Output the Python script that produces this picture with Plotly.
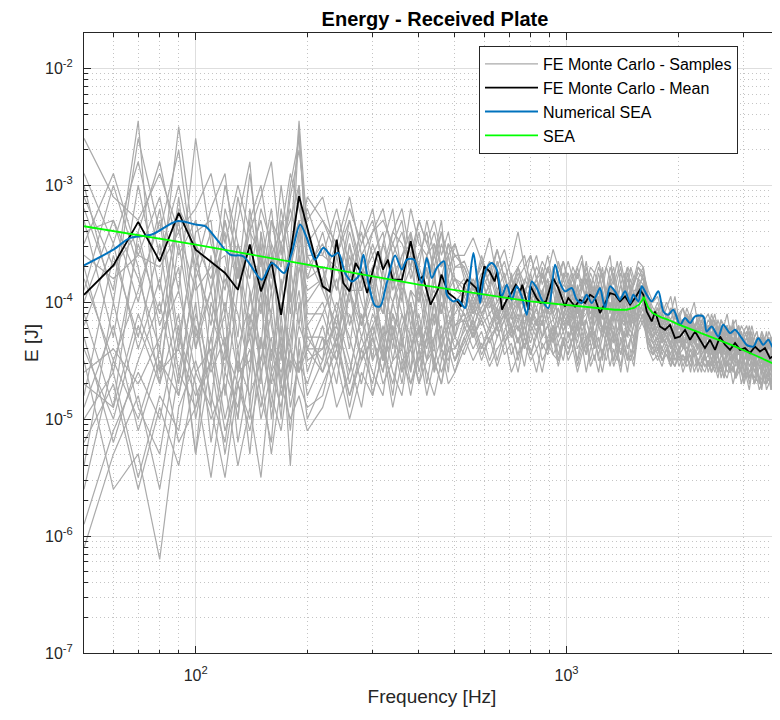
import math
import plotly.graph_objects as go

# ---------------- data (values are log10 of energy in J) ----------------
f_samples = (list(range(50, 201, 10)) + list(range(220, 501, 20))
             + list(range(530, 1521, 30)) + list(range(1560, 3811, 50)))

sample_01 = ([-3.2,-3.9,-2.45,-4.6,-3.5,-4.4,-3.6,-4.8,-3.9,-3.3,-4.7,-3.6,-4.4,-3.9,-2.5,-3.7]
    + [-3.7,-4.4,-3.5,-4.2,-3.8,-4.5,-3.6,-4.0,-3.4,-4.3,-3.9,-4.6,-3.8,-4.1,-4.3]
    + [-3.85,-4.1,-3.8,-4.05,-3.9,-4.15,-3.75,-4.0,-3.9,-4.2,-3.85,-4.05,-3.8,-4.1,-3.95,-4.15,
       -3.9,-4.1,-3.85,-4.15,-3.95,-4.05,-3.85,-4.2,-3.9,-4.05,-3.8,-4.1,-3.95,-4.15,-3.9,-4.05,-3.85,-4.1]
    + [-3.8,-3.95,-4.05,-4.25,-4.1,-4.3,-4.15,-4.2,-4.35,-4.1,-4.25,-4.3,-4.15,-4.35,-4.2,-4.3,
       -4.4,-4.2,-4.35,-4.25,-4.4,-4.3,-4.2,-4.45,-4.3,-4.35,-4.25,-4.45,-4.3,-4.4,
       -4.35,-4.5,-4.3,-4.45,-4.35,-4.5,-4.4,-4.3,-4.5,-4.35,-4.45,-4.4,-4.55,-4.35,-4.45,-4.5])
sample_02 = ([-4.8,-3.6,-4.3,-3.5,-4.6,-3.8,-4.9,-3.7,-4.4,-4.0,-3.6,-4.5,-3.8,-4.6,-3.5,-4.3]
    + [-4.5,-3.6,-4.2,-3.8,-4.5,-3.7,-4.3,-3.9,-4.6,-3.8,-4.2,-3.7,-4.4,-3.9,-3.8]
    + [-4.0,-4.25,-3.95,-4.2,-4.05,-3.9,-4.25,-4.1,-4.3,-4.0,-4.2,-3.95,-4.15,-4.3,-4.05,-4.2,
       -4.1,-4.3,-4.05,-4.25,-4.15,-4.0,-4.3,-4.1,-4.25,-4.05,-4.3,-4.15,-4.0,-4.2,-4.1,-4.3,-4.05,-4.2]
    + [-4.1,-3.85,-4.2,-4.3,-4.2,-4.35,-4.25,-4.4,-4.2,-4.35,-4.3,-4.45,-4.25,-4.35,-4.4,-4.3,
       -4.45,-4.35,-4.3,-4.5,-4.35,-4.45,-4.4,-4.3,-4.5,-4.4,-4.45,-4.35,-4.55,-4.4,
       -4.5,-4.45,-4.35,-4.55,-4.45,-4.5,-4.6,-4.4,-4.5,-4.55,-4.45,-4.6,-4.5,-4.45,-4.6,-4.55])
sample_03 = ([-5.9,-5.1,-4.6,-5.0,-4.2,-5.3,-4.5,-4.1,-5.2,-4.6,-3.9,-5.0,-4.4,-4.8,-4.0,-4.6]
    + [-4.2,-4.7,-3.9,-4.5,-4.1,-4.3,-4.8,-4.2,-4.0,-4.6,-4.3,-4.0,-4.5,-4.3,-4.5]
    + [-4.35,-4.15,-4.4,-4.2,-4.5,-4.25,-4.1,-4.35,-4.2,-4.45,-4.3,-4.15,-4.4,-4.2,-4.35,-4.5,
       -4.25,-4.4,-4.15,-4.35,-4.45,-4.2,-4.35,-4.3,-4.5,-4.25,-4.4,-4.2,-4.35,-4.45,-4.25,-4.4,-4.3,-4.2]
    + [-4.05,-4.15,-4.3,-4.4,-4.3,-4.45,-4.35,-4.5,-4.35,-4.45,-4.4,-4.3,-4.5,-4.4,-4.55,-4.4,
       -4.5,-4.45,-4.55,-4.4,-4.6,-4.45,-4.5,-4.55,-4.45,-4.6,-4.5,-4.55,-4.45,-4.6,
       -4.55,-4.65,-4.5,-4.6,-4.55,-4.7,-4.6,-4.5,-4.65,-4.55,-4.7,-4.6,-4.55,-4.7,-4.65,-4.6])
sample_04 = ([-3.3,-4.3,-3.0,-3.9,-2.5,-3.6,-4.2,-3.3,-3.8,-2.9,-3.7,-3.2,-3.9,-3.5,-2.45,-3.4]
    + [-3.9,-3.3,-3.8,-3.5,-3.2,-3.7,-3.5,-3.3,-3.8,-3.6,-3.4,-3.8,-3.5,-3.7,-3.6]
    + [-3.7,-3.9,-3.65,-3.85,-3.55,-3.8,-3.95,-3.7,-3.85,-3.6,-3.8,-3.75,-3.95,-3.7,-3.85,-3.65,
       -3.8,-3.95,-3.75,-3.9,-3.7,-3.85,-3.95,-3.75,-3.9,-3.7,-3.8,-3.95,-3.8,-3.7,-3.9,-3.75,-3.95,-3.85]
    + [-3.7,-3.8,-3.95,-4.1,-4.0,-4.15,-4.05,-3.95,-4.15,-4.1,-4.2,-4.05,-4.15,-4.25,-4.1,-4.2,
       -4.15,-4.25,-4.1,-4.2,-4.3,-4.15,-4.25,-4.2,-4.3,-4.15,-4.3,-4.2,-4.35,-4.25,
       -4.3,-4.2,-4.35,-4.3,-4.25,-4.4,-4.3,-4.35,-4.25,-4.4,-4.3,-4.35,-4.45,-4.3,-4.4,-4.35])
sample_05 = ([-4.5,-5.6,-5.3,-6.2,-4.9,-4.5,-5.0,-4.7,-5.4,-4.9,-5.5,-4.6,-4.9,-4.4,-4.7,-4.9]
    + [-4.8,-4.3,-4.9,-4.4,-4.7,-4.2,-4.6,-4.8,-4.3,-4.7,-4.5,-4.4,-4.6,-4.4,-4.3]
    + [-4.45,-4.25,-4.5,-4.3,-4.2,-4.45,-4.35,-4.6,-4.3,-4.45,-4.25,-4.5,-4.4,-4.3,-4.55,-4.35,
       -4.45,-4.3,-4.5,-4.35,-4.6,-4.4,-4.3,-4.5,-4.45,-4.35,-4.55,-4.4,-4.5,-4.3,-4.45,-4.6,-4.4,-4.5]
    + [-4.2,-4.1,-4.35,-4.45,-4.35,-4.5,-4.4,-4.55,-4.45,-4.4,-4.55,-4.45,-4.6,-4.4,-4.5,-4.55,
       -4.45,-4.6,-4.5,-4.55,-4.45,-4.65,-4.55,-4.5,-4.6,-4.55,-4.65,-4.5,-4.6,-4.7,
       -4.55,-4.65,-4.6,-4.7,-4.6,-4.65,-4.75,-4.6,-4.7,-4.65,-4.6,-4.75,-4.65,-4.7,-4.75,-4.65])
sample_06 = ([-3.5,-2.9,-3.6,-3.1,-3.9,-2.6,-3.5,-3.9,-3.1,-3.6,-3.3,-3.8,-3.0,-3.6,-3.3,-3.8]
    + [-3.4,-3.9,-3.3,-3.7,-4.0,-3.5,-3.8,-3.6,-3.5,-3.9,-3.6,-3.5,-3.9,-3.6,-3.9]
    + [-3.8,-4.0,-3.85,-3.7,-3.95,-3.85,-4.05,-3.8,-3.95,-3.75,-4.0,-3.9,-3.8,-4.05,-3.85,-3.95,
       -3.85,-4.05,-3.9,-3.8,-4.0,-3.9,-4.1,-3.85,-4.0,-3.95,-3.8,-4.05,-3.9,-4.0,-3.85,-3.95,-4.05,-3.9]
    + [-3.9,-3.75,-4.0,-4.15,-4.05,-4.2,-4.1,-4.25,-4.1,-4.2,-4.15,-4.25,-4.1,-4.2,-4.3,-4.15,
       -4.25,-4.2,-4.3,-4.15,-4.3,-4.25,-4.35,-4.2,-4.3,-4.25,-4.35,-4.3,-4.25,-4.4,
       -4.3,-4.35,-4.25,-4.4,-4.35,-4.3,-4.45,-4.35,-4.4,-4.3,-4.45,-4.35,-4.4,-4.45,-4.35,-4.4])
sample_07 = ([-5.0,-4.6,-5.5,-4.8,-5.1,-4.2,-4.8,-5.2,-4.4,-5.3,-4.3,-4.8,-5.1,-4.5,-4.6,-4.4]
    + [-4.6,-4.1,-4.5,-4.9,-4.3,-4.6,-4.1,-4.5,-4.4,-4.2,-4.7,-4.3,-4.2,-4.6,-4.0]
    + [-4.1,-4.3,-4.15,-4.35,-4.2,-4.05,-4.3,-4.2,-4.4,-4.15,-4.25,-4.1,-4.35,-4.2,-4.3,-4.15,
       -4.3,-4.2,-4.35,-4.15,-4.3,-4.25,-4.4,-4.2,-4.3,-4.15,-4.35,-4.25,-4.4,-4.2,-4.3,-4.25,-4.15,-4.35]
    + [-4.15,-4.0,-4.3,-4.35,-4.45,-4.3,-4.4,-4.35,-4.5,-4.4,-4.3,-4.5,-4.4,-4.45,-4.35,-4.5,
       -4.45,-4.55,-4.4,-4.5,-4.45,-4.55,-4.4,-4.5,-4.6,-4.45,-4.55,-4.5,-4.45,-4.6,
       -4.5,-4.6,-4.55,-4.5,-4.65,-4.55,-4.6,-4.5,-4.65,-4.6,-4.55,-4.7,-4.6,-4.55,-4.65,-4.6])
sample_08 = ([-4.0,-3.3,-3.8,-4.4,-3.1,-4.3,-3.9,-3.4,-4.6,-3.6,-4.1,-3.5,-4.5,-3.8,-3.0,-4.1]
    + [-4.1,-3.8,-4.4,-3.6,-3.9,-4.1,-3.7,-4.4,-3.9,-4.0,-3.7,-4.2,-3.8,-4.3,-4.0]
    + [-3.9,-4.1,-4.0,-3.85,-4.1,-3.95,-4.15,-3.9,-4.05,-4.2,-3.95,-4.05,-3.85,-4.1,-4.0,-3.9,
       -4.1,-3.95,-4.15,-4.0,-3.9,-4.15,-4.05,-4.2,-3.95,-4.1,-4.0,-4.15,-3.95,-4.1,-4.05,-4.2,-3.95,-4.05]
    + [-3.95,-3.9,-4.15,-4.2,-4.3,-4.2,-4.25,-4.35,-4.2,-4.3,-4.25,-4.15,-4.35,-4.3,-4.2,-4.35,
       -4.3,-4.4,-4.25,-4.35,-4.3,-4.45,-4.35,-4.3,-4.4,-4.35,-4.45,-4.3,-4.4,-4.35,
       -4.45,-4.4,-4.5,-4.35,-4.45,-4.4,-4.5,-4.45,-4.4,-4.55,-4.45,-4.5,-4.4,-4.55,-4.45,-4.5])
sample_09 = ([-4.1,-4.9,-3.4,-4.2,-3.7,-5.0,-4.3,-3.8,-4.1,-4.6,-3.4,-4.2,-4.7,-3.7,-4.2,-3.6]
    + [-3.9,-4.2,-3.6,-4.0,-4.3,-3.9,-4.4,-3.8,-4.1,-4.4,-4.0,-3.9,-4.1,-3.8,-4.2]
    + [-4.15,-3.95,-4.1,-4.0,-4.2,-3.9,-4.05,-4.15,-4.0,-4.1,-4.2,-3.95,-4.1,-4.05,-3.95,-4.15,
       -4.05,-4.2,-4.0,-4.15,-4.1,-3.95,-4.2,-4.05,-4.15,-4.0,-4.2,-4.1,-4.0,-4.15,-4.2,-4.05,-4.15,-4.0]
    + [-4.0,-3.95,-4.2,-4.3,-4.25,-4.35,-4.2,-4.3,-4.4,-4.25,-4.35,-4.3,-4.2,-4.35,-4.4,-4.3,
       -4.35,-4.3,-4.45,-4.35,-4.4,-4.3,-4.45,-4.4,-4.35,-4.5,-4.4,-4.45,-4.35,-4.5,
       -4.45,-4.5,-4.4,-4.55,-4.45,-4.5,-4.4,-4.55,-4.5,-4.45,-4.55,-4.5,-4.6,-4.45,-4.55,-4.5])
sample_10 = ([-2.6,-3.1,-3.3,-2.9,-3.4,-3.2,-2.9,-3.5,-3.0,-3.4,-3.1,-2.8,-3.6,-3.2,-3.5,-3.1]
    + [-3.3,-3.5,-3.1,-3.6,-3.4,-3.3,-3.5,-3.7,-3.2,-3.5,-3.6,-3.4,-3.7,-3.5,-3.6]
    + [-3.6,-3.45,-3.65,-3.75,-3.55,-3.8,-3.65,-3.4,-3.7,-3.6,-3.8,-3.65,-3.75,-3.55,-3.7,-3.8,
       -3.65,-3.8,-3.7,-3.6,-3.85,-3.7,-3.75,-3.65,-3.8,-3.7,-3.6,-3.85,-3.75,-3.65,-3.8,-3.7,-3.75,-3.85]
    + [-3.7,-3.75,-3.9,-4.0,-3.95,-4.1,-4.0,-4.1,-3.95,-4.15,-4.05,-4.15,-4.1,-4.0,-4.2,-4.1,
       -4.15,-4.1,-4.2,-4.1,-4.25,-4.15,-4.2,-4.1,-4.25,-4.2,-4.15,-4.3,-4.2,-4.25,
       -4.2,-4.3,-4.2,-4.3,-4.25,-4.35,-4.25,-4.3,-4.35,-4.25,-4.3,-4.4,-4.3,-4.35,-4.3,-4.4])
sample_11 = ([-5.4,-4.0,-4.9,-5.3,-4.3,-4.7,-5.5,-4.6,-4.9,-4.2,-4.8,-5.2,-4.1,-4.9,-4.5,-4.7]
    + [-4.3,-4.9,-4.6,-4.1,-4.8,-4.4,-4.7,-4.3,-4.7,-4.5,-4.2,-4.6,-4.4,-4.7,-4.6]
    + [-4.3,-4.5,-4.35,-4.55,-4.4,-4.3,-4.6,-4.45,-4.35,-4.5,-4.4,-4.6,-4.35,-4.45,-4.5,-4.3,
       -4.5,-4.4,-4.6,-4.45,-4.35,-4.55,-4.45,-4.6,-4.4,-4.5,-4.35,-4.55,-4.45,-4.6,-4.4,-4.5,-4.45,-4.55]
    + [-4.25,-4.15,-4.4,-4.5,-4.45,-4.55,-4.4,-4.5,-4.55,-4.45,-4.6,-4.5,-4.45,-4.6,-4.5,-4.55,
       -4.6,-4.5,-4.6,-4.55,-4.65,-4.5,-4.6,-4.65,-4.55,-4.7,-4.6,-4.55,-4.7,-4.6,
       -4.65,-4.75,-4.6,-4.7,-4.65,-4.75,-4.7,-4.6,-4.75,-4.7,-4.65,-4.8,-4.7,-4.75,-4.7,-4.8])
sample_12 = ([-3.8,-4.5,-3.9,-3.3,-4.4,-3.4,-3.3,-4.4,-3.5,-3.9,-4.4,-3.3,-3.5,-4.1,-3.4,-3.2]
    + [-3.6,-3.7,-4.0,-3.3,-3.6,-3.9,-3.4,-3.5,-3.7,-3.4,-3.8,-3.6,-3.3,-3.9,-3.7]
    + [-3.65,-3.85,-3.7,-3.45,-3.8,-3.65,-3.9,-3.7,-3.6,-3.85,-3.7,-3.8,-3.6,-3.85,-3.75,-3.65,
       -3.85,-3.7,-3.8,-3.65,-3.9,-3.75,-3.85,-3.7,-3.8,-3.9,-3.7,-3.8,-3.65,-3.85,-3.75,-3.9,-3.7,-3.8]
    + [-3.65,-3.7,-3.95,-4.05,-4.1,-4.0,-4.15,-4.05,-4.2,-4.1,-4.05,-4.2,-4.1,-4.25,-4.15,-4.1,
       -4.25,-4.15,-4.2,-4.3,-4.15,-4.25,-4.2,-4.3,-4.2,-4.35,-4.25,-4.2,-4.35,-4.25,
       -4.3,-4.25,-4.35,-4.3,-4.4,-4.3,-4.35,-4.3,-4.4,-4.35,-4.3,-4.4,-4.35,-4.45,-4.35,-4.4])
sample_13 = ([-4.6,-4.4,-4.7,-4.3,-3.9,-4.6,-4.4,-5.1,-4.7,-4.4,-4.9,-4.4,-4.6,-4.3,-3.9,-4.5]
    + [-4.4,-4.0,-4.3,-4.7,-4.2,-4.0,-4.5,-4.1,-4.4,-4.1,-4.5,-4.3,-4.0,-4.4,-4.4]
    + [-4.25,-4.05,-4.2,-4.1,-4.3,-4.15,-4.0,-4.25,-4.1,-4.2,-4.3,-4.05,-4.2,-4.15,-4.3,-4.1,
       -4.2,-4.1,-4.3,-4.15,-4.25,-4.35,-4.1,-4.2,-4.3,-4.15,-4.25,-4.1,-4.3,-4.2,-4.15,-4.3,-4.2,-4.1]
    + [-4.1,-4.0,-4.25,-4.3,-4.4,-4.3,-4.35,-4.45,-4.3,-4.4,-4.35,-4.45,-4.3,-4.4,-4.45,-4.35,
       -4.45,-4.4,-4.5,-4.35,-4.45,-4.4,-4.55,-4.45,-4.4,-4.5,-4.45,-4.55,-4.4,-4.5,
       -4.55,-4.45,-4.6,-4.5,-4.55,-4.45,-4.6,-4.55,-4.5,-4.6,-4.55,-4.5,-4.65,-4.55,-4.6,-4.55])
sample_14 = ([-3.6,-3.8,-3.6,-3.7,-3.4,-3.9,-3.7,-3.6,-4.3,-3.2,-3.8,-4.1,-3.3,-4.0,-3.6,-3.9]
    + [-3.8,-3.5,-3.9,-3.9,-3.5,-3.8,-4.0,-3.7,-3.6,-3.8,-4.0,-3.5,-3.7,-3.6,-3.9]
    + [-3.95,-3.8,-4.0,-3.85,-3.75,-3.95,-3.85,-4.05,-3.8,-3.9,-4.0,-3.75,-3.95,-3.85,-4.0,-3.8,
       -3.95,-3.85,-4.05,-3.9,-3.8,-4.0,-3.9,-3.85,-4.05,-3.95,-3.85,-4.0,-3.9,-4.05,-3.8,-3.95,-3.9,-4.0]
    + [-3.85,-3.95,-4.05,-4.2,-4.1,-4.25,-4.15,-4.2,-4.3,-4.15,-4.25,-4.2,-4.3,-4.2,-4.25,-4.35,
       -4.25,-4.3,-4.2,-4.35,-4.3,-4.4,-4.25,-4.35,-4.3,-4.4,-4.3,-4.35,-4.45,-4.35,
       -4.4,-4.35,-4.45,-4.4,-4.35,-4.5,-4.4,-4.45,-4.35,-4.5,-4.4,-4.45,-4.5,-4.4,-4.5,-4.45])
sample_15 = ([-4.9,-4.2,-5.1,-4.5,-4.8,-4.0,-5.2,-4.4,-4.7,-5.0,-4.3,-4.9,-4.2,-5.4,-4.3,-4.8]
    + [-4.5,-4.1,-4.7,-4.3,-4.6,-4.8,-4.2,-4.6,-4.4,-4.7,-4.3,-4.5,-4.7,-4.3,-4.5]
    + [-4.2,-4.4,-4.25,-4.5,-4.3,-4.15,-4.45,-4.3,-4.55,-4.25,-4.4,-4.3,-4.2,-4.45,-4.35,-4.25,
       -4.4,-4.3,-4.5,-4.25,-4.4,-4.35,-4.5,-4.3,-4.45,-4.25,-4.4,-4.5,-4.3,-4.45,-4.35,-4.5,-4.3,-4.4]
    + [-4.1,-4.2,-4.3,-4.45,-4.35,-4.5,-4.4,-4.45,-4.55,-4.4,-4.5,-4.45,-4.55,-4.4,-4.5,-4.6,
       -4.45,-4.55,-4.5,-4.6,-4.5,-4.55,-4.65,-4.5,-4.6,-4.55,-4.65,-4.5,-4.6,-4.65,
       -4.55,-4.7,-4.6,-4.65,-4.55,-4.7,-4.65,-4.6,-4.7,-4.6,-4.75,-4.65,-4.7,-4.6,-4.75,-4.7])
sample_16 = ([-2.9,-3.5,-2.8,-3.6,-3.0,-3.7,-3.2,-2.9,-3.8,-3.3,-3.0,-3.6,-3.4,-2.9,-3.2,-3.5]
    + [-3.3,-3.6,-3.2,-3.5,-3.3,-3.7,-3.4,-3.2,-3.6,-3.3,-3.5,-3.7,-3.4,-3.6,-3.5]
    + [-3.75,-3.95,-3.8,-3.65,-3.9,-3.75,-4.0,-3.8,-3.7,-3.9,-3.8,-3.95,-3.7,-3.85,-3.95,-3.75,
       -3.9,-3.8,-4.0,-3.85,-3.75,-3.95,-3.85,-4.0,-3.8,-3.95,-3.85,-3.75,-4.0,-3.85,-3.95,-3.8,-3.9,-3.85]
    + [-3.75,-3.8,-4.05,-4.1,-4.2,-4.1,-4.2,-4.05,-4.2,-4.15,-4.25,-4.1,-4.2,-4.25,-4.15,-4.25,
       -4.2,-4.3,-4.15,-4.25,-4.3,-4.2,-4.3,-4.25,-4.35,-4.2,-4.3,-4.35,-4.25,-4.35,
       -4.3,-4.4,-4.3,-4.35,-4.4,-4.3,-4.4,-4.35,-4.45,-4.35,-4.4,-4.35,-4.45,-4.4,-4.35,-4.45])
sample_17 = ([-3.7,-4.6,-3.5,-4.1,-3.3,-4.4,-3.9,-4.6,-3.6,-4.2,-3.5,-4.5,-3.9,-3.6,-3.3,-4.2]
    + [-4.0,-4.4,-3.7,-4.2,-3.9,-4.3,-3.8,-4.1,-4.3,-3.8,-4.1,-4.4,-3.9,-4.2,-4.0]
    + [-4.2,-4.0,-4.15,-3.95,-4.25,-4.1,-4.2,-4.0,-4.3,-4.05,-4.15,-4.2,-3.95,-4.15,-4.05,-4.25,
       -4.1,-4.25,-4.05,-4.2,-4.15,-4.3,-4.05,-4.2,-4.1,-4.25,-4.15,-4.05,-4.25,-4.15,-4.3,-4.1,-4.2,-4.15]
    + [-3.95,-4.0,-4.15,-4.3,-4.2,-4.3,-4.35,-4.25,-4.35,-4.25,-4.4,-4.3,-4.35,-4.3,-4.4,-4.35,
       -4.3,-4.45,-4.35,-4.4,-4.3,-4.45,-4.35,-4.45,-4.4,-4.35,-4.5,-4.4,-4.45,-4.4,
       -4.5,-4.45,-4.4,-4.55,-4.45,-4.5,-4.45,-4.55,-4.45,-4.5,-4.55,-4.45,-4.55,-4.5,-4.6,-4.5])
sample_18 = ([-6.1,-5.3,-4.8,-5.6,-4.6,-4.9,-4.3,-5.0,-4.5,-4.8,-4.5,-4.1,-4.8,-4.4,-4.6,-4.2]
    + [-4.6,-4.3,-4.8,-4.4,-4.2,-4.5,-4.3,-4.7,-4.2,-4.5,-4.3,-4.1,-4.4,-4.2,-4.1]
    + [-3.95,-4.15,-3.9,-4.1,-4.0,-3.85,-4.1,-4.0,-4.2,-3.95,-4.05,-3.9,-4.15,-4.05,-3.9,-4.1,
       -4.0,-4.15,-3.95,-4.1,-4.05,-4.2,-3.95,-4.1,-4.0,-4.15,-3.9,-4.1,-4.05,-4.2,-4.0,-4.1,-4.15,-4.0]
    + [-4.0,-3.85,-4.1,-4.25,-4.15,-4.3,-4.2,-4.3,-4.25,-4.35,-4.2,-4.3,-4.25,-4.35,-4.3,-4.2,
       -4.35,-4.3,-4.4,-4.3,-4.35,-4.25,-4.4,-4.35,-4.45,-4.35,-4.4,-4.3,-4.45,-4.4,
       -4.35,-4.45,-4.4,-4.5,-4.4,-4.45,-4.5,-4.4,-4.5,-4.45,-4.55,-4.45,-4.5,-4.55,-4.45,-4.5])
sample_19 = ([-3.4,-3.3,-4.0,-3.2,-4.3,-3.5,-3.8,-3.3,-3.9,-3.4,-3.6,-3.9,-3.5,-3.3,-3.0,-3.7]
    + [-3.5,-3.9,-3.4,-3.8,-3.6,-3.4,-3.9,-3.6,-3.4,-3.7,-3.9,-3.6,-3.8,-3.5,-3.8]
    + [-3.85,-4.05,-3.9,-3.75,-4.0,-3.9,-3.8,-4.05,-3.9,-3.95,-3.8,-4.05,-3.9,-3.85,-4.0,-3.95,
       -4.05,-3.9,-4.1,-3.95,-4.0,-3.85,-4.05,-3.95,-4.1,-3.9,-4.05,-3.95,-4.1,-3.95,-4.05,-3.9,-4.0,-4.1]
    + [-3.95,-3.9,-4.25,-4.35,-4.3,-4.4,-4.3,-4.35,-4.25,-4.4,-4.35,-4.45,-4.35,-4.4,-4.3,-4.45,
       -4.4,-4.45,-4.35,-4.5,-4.4,-4.45,-4.5,-4.4,-4.5,-4.45,-4.4,-4.55,-4.45,-4.5,
       -4.45,-4.55,-4.5,-4.45,-4.6,-4.5,-4.55,-4.5,-4.6,-4.5,-4.55,-4.6,-4.5,-4.6,-4.55,-4.6])
sample_20 = ([-4.4,-5.0,-4.2,-4.7,-4.1,-5.3,-4.0,-4.4,-5.0,-3.9,-4.6,-4.3,-5.0,-3.9,-4.6,-4.3]
    + [-4.3,-4.5,-4.1,-4.5,-4.3,-4.6,-4.0,-4.3,-4.6,-4.2,-4.5,-4.1,-4.4,-4.5,-4.2]
    + [-4.1,-4.3,-4.15,-4.35,-4.2,-4.1,-4.3,-4.15,-4.4,-4.2,-4.05,-4.3,-4.2,-4.35,-4.15,-4.25,
       -4.15,-4.3,-4.2,-4.35,-4.15,-4.3,-4.25,-4.4,-4.2,-4.3,-4.15,-4.35,-4.25,-4.2,-4.35,-4.25,-4.3,-4.2]
    + [-3.9,-3.85,-4.1,-4.15,-4.25,-4.15,-4.25,-4.2,-4.3,-4.2,-4.3,-4.25,-4.2,-4.35,-4.25,-4.3,
       -4.3,-4.4,-4.3,-4.35,-4.25,-4.4,-4.35,-4.3,-4.45,-4.35,-4.4,-4.35,-4.45,-4.4,
       -4.35,-4.5,-4.4,-4.45,-4.4,-4.5,-4.45,-4.4,-4.5,-4.45,-4.55,-4.45,-4.5,-4.45,-4.55,-4.5])
sample_21 = ([-3.1,-3.7,-3.4,-2.8,-3.6,-3.3,-3.9,-3.0,-3.5,-3.8,-3.2,-3.5,-3.7,-3.1,-2.7,-3.3]
    + [-3.1,-3.6,-3.3,-3.8,-3.4,-3.2,-3.6,-3.4,-3.7,-3.3,-3.5,-3.3,-3.6,-3.4,-3.7]
    + [-3.7,-3.9,-3.6,-3.85,-3.7,-3.55,-3.8,-3.7,-3.95,-3.75,-3.6,-3.85,-3.7,-3.9,-3.65,-3.8,
       -3.75,-3.9,-3.7,-3.85,-3.65,-3.9,-3.75,-3.85,-3.7,-3.95,-3.8,-3.7,-3.9,-3.75,-3.85,-3.7,-3.9,-3.8]
    + [-3.8,-3.7,-4.0,-4.1,-4.05,-4.2,-4.1,-4.15,-4.05,-4.2,-4.15,-4.25,-4.1,-4.2,-4.15,-4.3,
       -4.2,-4.25,-4.15,-4.3,-4.2,-4.3,-4.25,-4.2,-4.35,-4.25,-4.3,-4.2,-4.35,-4.3,
       -4.25,-4.35,-4.3,-4.4,-4.3,-4.35,-4.25,-4.4,-4.35,-4.3,-4.4,-4.35,-4.45,-4.35,-4.4,-4.45])
sample_22 = ([-5.2,-4.7,-5.6,-4.9,-5.4,-4.6,-4.9,-5.5,-4.7,-5.1,-4.6,-5.3,-4.7,-5.0,-4.8,-5.1]
    + [-4.9,-4.5,-5.0,-4.6,-4.8,-4.4,-4.9,-4.5,-4.7,-4.4,-4.8,-4.5,-4.7,-4.4,-4.6]
    + [-4.4,-4.2,-4.45,-4.3,-4.55,-4.35,-4.2,-4.5,-4.3,-4.4,-4.6,-4.35,-4.45,-4.25,-4.5,-4.35,
       -4.45,-4.3,-4.55,-4.4,-4.3,-4.5,-4.35,-4.45,-4.6,-4.4,-4.3,-4.5,-4.4,-4.55,-4.35,-4.45,-4.5,-4.35]
    + [-4.15,-4.05,-4.35,-4.4,-4.5,-4.4,-4.45,-4.5,-4.4,-4.55,-4.45,-4.5,-4.4,-4.55,-4.5,-4.45,
       -4.55,-4.5,-4.6,-4.45,-4.55,-4.6,-4.5,-4.6,-4.55,-4.5,-4.65,-4.55,-4.6,-4.5,
       -4.65,-4.6,-4.55,-4.7,-4.6,-4.65,-4.55,-4.7,-4.65,-4.6,-4.7,-4.65,-4.6,-4.75,-4.65,-4.7])
sample_23 = ([-4.2,-3.5,-4.4,-3.8,-4.7,-3.7,-4.1,-4.5,-3.7,-4.3,-3.8,-4.6,-4.0,-4.4,-3.7,-4.0]
    + [-3.8,-4.3,-3.9,-4.2,-3.7,-4.4,-4.0,-3.8,-4.2,-3.9,-4.3,-3.8,-4.1,-3.9,-4.3]
    + [-4.05,-3.85,-4.1,-3.95,-4.15,-3.9,-4.05,-3.95,-4.2,-4.0,-3.85,-4.1,-4.0,-3.9,-4.15,-4.05,
       -3.95,-4.15,-4.05,-4.2,-3.95,-4.1,-4.0,-4.15,-3.9,-4.1,-4.2,-4.0,-4.1,-3.95,-4.15,-4.05,-4.2,-4.05]
    + [-4.05,-3.9,-4.15,-4.25,-4.35,-4.25,-4.3,-4.2,-4.35,-4.3,-4.4,-4.25,-4.35,-4.3,-4.4,-4.3,
       -4.4,-4.35,-4.3,-4.45,-4.35,-4.4,-4.3,-4.45,-4.4,-4.5,-4.35,-4.45,-4.4,-4.5,
       -4.4,-4.5,-4.45,-4.4,-4.55,-4.45,-4.5,-4.45,-4.55,-4.5,-4.45,-4.55,-4.5,-4.6,-4.5,-4.55])
sample_24 = ([-3.0,-4.0,-2.6,-3.4,-2.7,-3.8,-3.4,-4.1,-3.3,-2.8,-3.9,-3.3,-3.7,-3.0,-2.6,-3.6]
    + [-3.6,-3.2,-3.7,-3.4,-3.9,-3.5,-3.2,-3.8,-3.5,-3.7,-3.3,-3.6,-3.4,-3.8,-3.5]
    + [-3.8,-3.95,-3.75,-3.9,-3.65,-3.85,-3.95,-3.75,-3.9,-3.8,-3.95,-3.7,-3.9,-3.8,-4.0,-3.85,
       -3.9,-3.75,-3.95,-3.85,-4.0,-3.8,-3.95,-3.85,-3.75,-4.0,-3.9,-3.8,-3.95,-3.85,-4.0,-3.9,-3.8,-3.95]
    + [-3.8,-3.85,-4.1,-4.15,-4.05,-4.2,-4.15,-4.25,-4.1,-4.2,-4.25,-4.15,-4.3,-4.2,-4.25,-4.2,
       -4.3,-4.25,-4.35,-4.25,-4.3,-4.2,-4.35,-4.3,-4.25,-4.4,-4.3,-4.35,-4.3,-4.4,
       -4.35,-4.3,-4.45,-4.35,-4.4,-4.35,-4.45,-4.4,-4.35,-4.5,-4.4,-4.45,-4.4,-4.5,-4.45,-4.4])
sample_25 = ([-4.7,-4.9,-4.1,-4.6,-4.4,-4.8,-4.5,-4.0,-4.6,-4.5,-4.0,-4.7,-4.3,-4.6,-4.2,-4.4]
    + [-4.4,-4.2,-4.6,-4.1,-4.5,-4.3,-4.2,-4.6,-4.0,-4.4,-4.2,-4.5,-4.3,-4.2,-4.4]
    + [-4.15,-4.3,-4.1,-4.25,-4.05,-4.3,-4.2,-4.35,-4.1,-4.25,-4.15,-4.3,-4.05,-4.25,-4.2,-4.35,
       -4.15,-4.3,-4.2,-4.1,-4.35,-4.2,-4.3,-4.15,-4.25,-4.35,-4.2,-4.3,-4.1,-4.25,-4.35,-4.2,-4.25,-4.3]
    + [-4.05,-4.05,-4.2,-4.35,-4.3,-4.4,-4.3,-4.4,-4.35,-4.45,-4.3,-4.4,-4.35,-4.45,-4.4,-4.35,
       -4.45,-4.4,-4.5,-4.4,-4.45,-4.4,-4.5,-4.45,-4.55,-4.45,-4.5,-4.4,-4.55,-4.5,
       -4.45,-4.55,-4.5,-4.6,-4.5,-4.55,-4.5,-4.6,-4.55,-4.5,-4.6,-4.55,-4.65,-4.55,-4.6,-4.55])
sample_26 = ([-3.9,-3.0,-3.7,-4.7,-3.2,-3.5,-4.5,-3.2,-3.6,-4.9,-3.4,-3.9,-3.2,-3.7,-3.4,-3.8]
    + [-3.7,-4.1,-3.5,-3.9,-3.7,-4.1,-3.6,-3.9,-3.7,-4.0,-3.6,-3.8,-4.1,-3.7,-3.8]
    + [-3.9,-4.05,-3.8,-4.0,-3.9,-4.1,-3.8,-3.95,-4.05,-3.85,-4.0,-3.9,-4.1,-3.85,-3.95,-4.05,
       -3.9,-4.05,-3.95,-4.1,-3.9,-4.0,-4.1,-3.9,-4.05,-3.95,-4.1,-3.9,-4.0,-4.1,-3.95,-4.05,-3.9,-4.0]
    + [-3.9,-3.95,-4.2,-4.15,-4.3,-4.2,-4.3,-4.25,-4.35,-4.2,-4.3,-4.35,-4.25,-4.35,-4.3,-4.4,
       -4.3,-4.4,-4.35,-4.3,-4.45,-4.35,-4.4,-4.35,-4.45,-4.4,-4.35,-4.45,-4.4,-4.5,
       -4.4,-4.45,-4.4,-4.5,-4.45,-4.4,-4.5,-4.45,-4.55,-4.45,-4.5,-4.45,-4.55,-4.5,-4.45,-4.55])
sample_27 = ([-4.3,-5.2,-4.5,-4.0,-4.8,-4.1,-4.6,-4.3,-5.0,-4.1,-4.5,-3.9,-4.7,-4.2,-3.6,-4.4]
    + [-4.1,-4.5,-3.9,-4.3,-4.0,-4.5,-4.1,-4.3,-3.9,-4.2,-4.4,-4.0,-4.3,-4.1,-4.0]
    + [-4.0,-4.2,-4.05,-3.9,-4.15,-4.0,-4.25,-4.05,-3.95,-4.15,-4.05,-4.2,-3.95,-4.1,-4.2,-4.0,
       -4.15,-4.05,-4.25,-4.1,-4.0,-4.2,-4.1,-4.0,-4.25,-4.1,-4.2,-4.05,-4.15,-4.25,-4.05,-4.2,-4.1,-4.15]
    + [-3.85,-3.8,-4.05,-4.1,-4.2,-4.1,-4.2,-4.15,-4.25,-4.15,-4.2,-4.1,-4.25,-4.2,-4.3,-4.2,
       -4.25,-4.2,-4.3,-4.25,-4.35,-4.25,-4.3,-4.25,-4.35,-4.3,-4.4,-4.3,-4.35,-4.3,
       -4.4,-4.35,-4.3,-4.4,-4.35,-4.45,-4.35,-4.4,-4.45,-4.35,-4.45,-4.4,-4.5,-4.4,-4.45,-4.4])
sample_28 = ([-5.6,-4.5,-5.0,-4.4,-5.2,-4.9,-4.5,-5.3,-4.6,-4.3,-5.0,-4.6,-4.4,-5.1,-4.4,-5.0]
    + [-4.7,-4.4,-4.8,-4.5,-4.3,-4.7,-4.5,-4.4,-4.8,-4.4,-4.6,-4.8,-4.5,-4.3,-4.5]
    + [-4.3,-4.15,-4.4,-4.25,-4.1,-4.35,-4.25,-4.45,-4.2,-4.35,-4.15,-4.4,-4.3,-4.2,-4.45,-4.3,
       -4.35,-4.2,-4.4,-4.3,-4.45,-4.25,-4.35,-4.45,-4.3,-4.2,-4.4,-4.3,-4.45,-4.35,-4.25,-4.4,-4.3,-4.45]
    + [-4.2,-4.1,-4.4,-4.45,-4.4,-4.5,-4.45,-4.55,-4.4,-4.5,-4.45,-4.55,-4.5,-4.45,-4.6,-4.5,
       -4.55,-4.5,-4.6,-4.5,-4.6,-4.55,-4.65,-4.5,-4.6,-4.55,-4.65,-4.6,-4.55,-4.7,
       -4.6,-4.65,-4.6,-4.7,-4.6,-4.65,-4.7,-4.6,-4.7,-4.65,-4.75,-4.65,-4.7,-4.65,-4.75,-4.7])

samples_log10E = [sample_01, sample_02, sample_03, sample_04, sample_05, sample_06, sample_07,
                  sample_08, sample_09, sample_10, sample_11, sample_12, sample_13, sample_14,
                  sample_15, sample_16, sample_17, sample_18, sample_19, sample_20, sample_21,
                  sample_22, sample_23, sample_24, sample_25, sample_26, sample_27, sample_28]

f_mean = [50,60,70,80,90,100,120,130,140,150,160,170,190,220,230,240,250,260,270,280,290,310,320,330,340,
          360,380,400,410,430,450,460,480,500,520,530,540,570,580,600,620,640,650,670,690,710,730,750,760,
          790,800,830,850,880,920,950,990,1011,1054,1087,1122,1157,1193,1231,1270,1310,1351,1394,1438,1484,
          1530,1578,1611,1645,1697,1732,1786,1843,1901,1961,2023,2087,2153,2221,2290,2362,2437,2514,2593,
          2675,2759,2847,2936,3028,3124,3222,3324,3428,3537,3648,3763]
mean_log10E = [-3.937,-3.686,-3.314,-3.651,-3.237,-3.551,-3.751,-3.894,-3.508,-3.908,-3.656,-4.108,-3.094,
               -3.865,-3.908,-3.465,-3.836,-3.908,-3.665,-3.751,-3.922,-3.566,-3.722,-3.637,-3.808,
               -3.808,-3.480,-3.808,-3.780,-4.022,-3.894,-3.765,-3.922,-3.965,-4.037,-3.851,-3.808,-3.879,
               -3.951,-3.694,-3.737,-3.823,-3.737,-4.065,-3.979,-3.922,-3.851,-3.908,-3.851,
               -4.065,-3.865,-3.965,-4.008,-3.994,-3.794,-3.879,-4.037,-3.965,-4.037,-3.979,-4.008,-3.937,
               -3.965,-4.093,-4.008,-3.922,-3.937,-3.994,-3.951,-4.022,
               -3.965,-3.894,-3.937,-4.080,-4.165,-4.080,-4.208,-4.237,-4.194,-4.308,-4.294,-4.237,-4.322,
               -4.251,-4.322,-4.393,-4.322,-4.408,-4.294,
               -4.365,-4.408,-4.350,-4.408,-4.393,-4.436,-4.380,-4.422,-4.393,-4.479,-4.451,-4.465]

f_num_sea = [50,60,66.6,76.2,89.0,100,106.1,114.1,123.9,134.6,150.8,160.5,173.2,181.6,191.3,199.4,209.9,
             221.1,232.9,242.6,252.9,263.6,274.7,283.4,292.3,304.7,314.3,327.6,345,359.6,371,388,407,420,
             433.3,446.8,467.6,475.5,495.4,510,532.6,543.6,560.9,572.9,584.6,596.8,609.5,628.8,648.6,668.9,
             690,711.6,734.1,757.2,781.1,805.8,831.2,857.5,893.2,931.1,960.5,990.8,1033,1065,1099,1133,
             1169,1206,1231,1270,1310,1351,1394,1438,1484,1514,1562,1595,1645,1697,1768,1824,1881,1941,
             2023,2087,2153,2221,2337,2387,2463,2566,2646,2759,2847,2967,3059,3188,3289,3393,3499,3610,3763]
num_sea_log10E = [-3.686,-3.551,-3.451,-3.422,-3.308,-3.337,-3.351,-3.465,-3.594,-3.608,-3.808,-3.665,-3.751,
                  -3.579,-3.337,-3.451,-3.637,-3.536,-3.608,-3.579,-3.751,-3.823,-3.780,-3.594,-3.836,-4.031,
                  -4.037,-3.836,-3.602,-3.722,-3.637,-3.637,-3.836,-3.622,-3.794,-3.708,-3.651,-3.937,-3.994,
                  -3.979,-4.051,-3.894,-3.579,-3.780,-4.008,-3.808,-3.708,-3.665,-3.722,-3.951,-3.851,-3.979,
                  -3.865,-3.951,-4.108,-3.823,-3.879,-3.979,-4.051,-3.680,-3.836,-3.908,-3.879,-3.979,-4.008,
                  -3.937,-4.008,-3.937,-3.879,-4.051,-3.865,-3.908,-3.979,-3.908,-4.008,-3.937,-3.994,-3.865,
                  -3.937,-3.994,-3.908,-4.080,-4.108,-4.065,-4.194,-4.136,-4.179,-4.122,-4.122,-4.251,-4.208,
                  -4.294,-4.194,-4.265,-4.237,-4.308,-4.365,-4.380,-4.308,-4.365,-4.322,-4.393,-4.422]

f_sea = [50,100,200,400,800,1000,1200,1350,1450,1520,1570,1600,1615,1630,1660,1707,1800,1881,2000,2305,2780,3200,3763]
sea_log10E = [-3.351,-3.508,-3.680,-3.851,-3.994,-4.025,-4.05,-4.065,-4.065,-4.05,-4.02,-3.985,-3.955,-3.99,
              -4.045,-4.093,-4.13,-4.151,-4.19,-4.265,-4.365,-4.45,-4.551]

x_major = [100, 1000]
x_major_text = ["10<sup>2</sup>", "10<sup>3</sup>"]
y_major_exp = [-7, -6, -5, -4, -3, -2]

# ---------------- styling ----------------
FONT = "Liberation Sans, Arial, Helvetica, sans-serif"
AX = "#262626"
GRID_MAJOR = "rgb(222,222,222)"
GRID_MINOR = "rgb(196,196,196)"

def to_E(vals):
    return [10 ** v for v in vals]

fig = go.Figure()
for i, s in enumerate(samples_log10E):
    fig.add_trace(go.Scatter(
        x=f_samples, y=to_E(s), mode="lines",
        line=dict(color="rgb(170,170,170)", width=1.2),
        name="FE Monte Carlo - Samples", legendgroup="samples",
        showlegend=(i == 0), hoverinfo="skip"))

fig.add_trace(go.Scatter(x=f_mean, y=to_E(mean_log10E), mode="lines",
                         line=dict(color="#000000", width=1.8),
                         name="FE Monte Carlo - Mean", hoverinfo="skip"))
fig.add_trace(go.Scatter(x=f_num_sea, y=to_E(num_sea_log10E), mode="lines",
                         line=dict(color="#0072BD", width=2, shape="spline", smoothing=0.8),
                         name="Numerical SEA", hoverinfo="skip"))
fig.add_trace(go.Scatter(x=f_sea, y=to_E(sea_log10E), mode="lines",
                         line=dict(color="#00FF00", width=1.8),
                         name="SEA", hoverinfo="skip"))

x_minor = [v * m for v in (10, 100, 1000) for m in range(2, 10)]
x_minor = [v for v in x_minor if 50 <= v <= 3800]
y_minor = [m * 10.0 ** e for e in range(-7, -1) for m in range(2, 10)]
y_minor = [v for v in y_minor if v <= 0.02]

# the page body adds an 8 px offset; the figure fills the rest of the 780x720 window
W, H = 772, 712
L, R, T, B = 76, 0, 25, 67
PW, PH = W - L - R, H - T - B

fig.update_layout(
    width=W, height=H,
    margin=dict(l=L, r=R, t=T, b=B, autoexpand=False),
    paper_bgcolor="white", plot_bgcolor="white",
    font=dict(family=FONT, color=AX),
    title=dict(text="<b>Energy - Received Plate</b>", font=dict(size=20, color="#000000", family=FONT),
               x=427 / W, xref="container", xanchor="center",
               y=1 - 11 / H, yref="container", yanchor="middle"),
    showlegend=True,
    legend=dict(x=(471 - L) / PW, y=(H - B - 38) / PH, xanchor="left", yanchor="top",
                bgcolor="white", bordercolor=AX, borderwidth=1, itemwidth=53,
                font=dict(size=16, color="#000000", family=FONT), tracegroupgap=0),
    hovermode=False,
)

fig.update_xaxes(
    type="log", range=[math.log10(50), math.log10(3763)],
    tickmode="array", tickvals=x_major, ticktext=x_major_text,
    ticks="inside", ticklen=7, tickwidth=1, tickcolor=AX, ticklabelstandoff=8,
    showline=True, linecolor=AX, linewidth=1, mirror="ticks",
    showgrid=True, gridcolor=GRID_MAJOR, gridwidth=1, zeroline=False,
    tickfont=dict(size=16, color=AX, family=FONT),
    minor=dict(tickmode="array", tickvals=x_minor, ticks="inside", ticklen=3.5, tickwidth=1,
               tickcolor=AX, showgrid=True, gridcolor=GRID_MINOR, gridwidth=1, griddash="1px,3px"),
    title=dict(text="Frequency [Hz]", font=dict(size=19, color=AX, family=FONT), standoff=6),
    automargin=False,
)
fig.update_yaxes(
    type="log", range=[-7, math.log10(0.02)],
    tickmode="array", tickvals=[10.0 ** e for e in y_major_exp],
    ticktext=["10<sup>%d</sup>" % e for e in y_major_exp],
    ticks="inside", ticklen=7, tickwidth=1, tickcolor=AX, ticklabelstandoff=7,
    showline=True, linecolor=AX, linewidth=1, mirror=False,
    showgrid=True, gridcolor=GRID_MAJOR, gridwidth=1, zeroline=False,
    tickfont=dict(size=16, color=AX, family=FONT),
    minor=dict(tickmode="array", tickvals=y_minor, ticks="inside", ticklen=3.5, tickwidth=1,
               tickcolor=AX, showgrid=True, gridcolor=GRID_MINOR, gridwidth=1, griddash="1px,3px"),
    title=dict(text="E [J]", font=dict(size=19, color=AX, family=FONT), standoff=1),
    automargin=False,
)

fig.write_html("out.html", config={"displayModeBar": False})
